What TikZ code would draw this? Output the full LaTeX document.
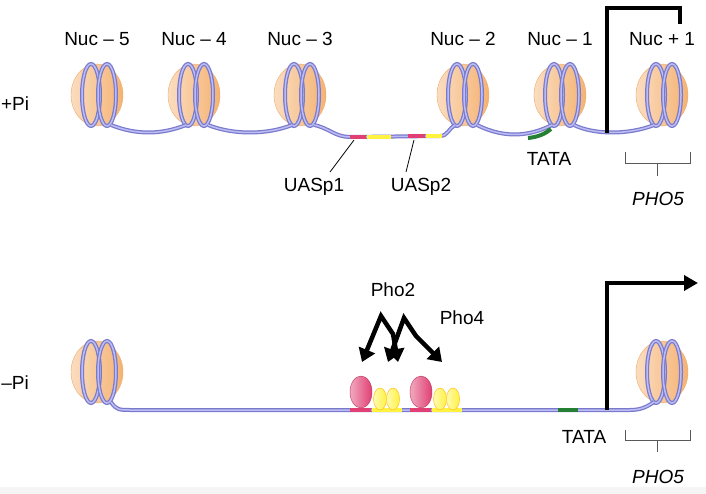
\documentclass[tikz,border=0pt]{standalone}
\usepackage{fontspec}
\setmainfont{Liberation Sans}
\usetikzlibrary{shapes.geometric,arrows.meta}
\definecolor{histone}{rgb}{0.96,0.70,0.45}
\definecolor{dnablue}{rgb}{0.48,0.48,0.80}
\definecolor{dnalight}{rgb}{0.74,0.74,0.96}
\definecolor{uaspink}{rgb}{0.88,0.25,0.45}
\definecolor{uasyellow}{rgb}{1.0,0.95,0.25}
\definecolor{tata}{rgb}{0.15,0.50,0.20}
\tikzset{
  nuc/.style={ellipse,minimum width=52pt,minimum height=62pt,inner sep=0pt,
    draw=histone!85!brown,left color=histone!45!white,right color=histone},
  dna/.style={draw=dnablue,line width=4pt,
    postaction={draw=dnalight,line width=1.5pt}},
  seg/.style={line width=4pt,line cap=butt},
  lbl/.style={font=\fontsize{19}{21}\selectfont},
  pho/.style={line width=4.5pt,line join=miter,
    {Triangle[length=13pt,width=17pt]}-{Triangle[length=13pt,width=17pt]}},
  gene/.style={line width=4pt},
  brk/.style={draw=gray!70!black,line width=0.8pt},
  red prot/.style={ellipse,minimum width=22pt,minimum height=32pt,inner sep=0pt,
    draw=uaspink!80!black,left color=uaspink!45!white,right color=uaspink},
  yel prot/.style={ellipse,minimum width=13pt,minimum height=22pt,inner sep=0pt,
    draw=orange!60!yellow,left color=uasyellow!40!white,right color=uasyellow}
}
\begin{document}
\begin{tikzpicture}[x=1pt,y=-1pt]
\useasboundingbox (0,0) rectangle (706,494);
\fill[gray!8] (0,487) rectangle (706,494);
% nucleosomes with wrapped DNA
\foreach \n/\x/\y in {n5/97/95,n4/194/95,n3/300/95,n2/463/95,n1/560/95,p1/662/95,m1/97/372,m2/662/372}{
  \node[nuc] (\n) at (\x,\y) {};
  \draw[dna] ([shift={(-6,0)}]\n.center) ellipse [x radius=9,y radius=31];
  \draw[dna] ([shift={(10,0)}]\n.center) ellipse [x radius=9,y radius=31];
  \coordinate (\n-in) at ([shift={(-8,30)}]\n.center);
  \coordinate (\n-out) at ([shift={(14,30)}]\n.center);
}
% linker DNA, top
\foreach \a/\b in {n5/n4,n4/n3}
  \draw[dna] (\a-out) .. controls +(25,10) and +(-25,10) .. (\b-in);
\draw[dna] (n3-out) .. controls +(15,3) and +(-15,0) .. (350,137) -- (440,136)
  .. controls +(8,0) and +(-6,3) .. (n2-in);
\draw[seg,uaspink] (350,137) -- (366,137);
\draw[seg,uasyellow] (367,137) -- (391,137);
\draw[seg,uaspink] (408,136) -- (425,136);
\draw[seg,uasyellow] (426,136) -- (442,136);
\draw[dna] (n2-out) .. controls +(30,15) and +(-20,10) .. (n1-in);
\draw[seg,tata] (528,138) .. controls (538,137) and (545,134) .. (551,129);
\draw[dna] (n1-out) .. controls +(20,10) and +(-25,10) .. (p1-in);
% linker DNA, bottom
\draw[dna] (m1-out) .. controls +(5,8) and +(-10,0) .. (130,410) -- (630,410)
  .. controls +(12,0) and +(-6,4) .. (m2-in);
\draw[seg,tata] (558,410) -- (578,410);
\draw[seg,uaspink] (350,410) -- (371,410);
\draw[seg,uasyellow] (372,410) -- (402,410);
\draw[seg,uaspink] (410,410) -- (431,410);
\draw[seg,uasyellow] (432,410) -- (462,410);
% bound activators
\node[red prot] (r1) at (361,392) {};
\node[yel prot] (y1) at (380,399) {};
\node[yel prot] (y2) at (393,399) {};
\node[red prot] (r2) at (421,392) {};
\node[yel prot] (y3) at (440,399) {};
\node[yel prot] (y4) at (453,399) {};
\draw[pho] (362,362) -- (381,316) -- (393,334) -- (398,362);
\draw[pho] (388,362) -- (404,318) -- (416,336) -- (442,362);
% transcription start
\draw[gene] (607,133) -- (607,8) -- (680,8) -- (680,24);
\draw[gene,-{Triangle[length=14pt,width=15pt]}] (607,410) -- (607,283) -- (698,283);
% gene brackets
\draw[brk] (625,152) -- (625,163) -- (690,163) -- (690,152) (657,163) -- (657,176);
\draw[brk] (625,430) -- (625,440) -- (690,440) -- (690,430) (657,440) -- (657,452);
% labels
\foreach \n/\t in {n5/5,n4/4,n3/3,n2/2,n1/1}
  \node[lbl] at ([yshift=56]\n.center) {Nuc -- \t};
\node[lbl] at ([yshift=56]p1.center) {Nuc + 1};
\node[lbl] at (15,104) {+Pi};
\node[lbl] at (15,383) {--Pi};
\node[lbl] (u1) at (314,187) {UASp1};
\node[lbl] (u2) at (421,187) {UASp2};
\draw[brk,black] (330,172) -- (354,140);
\draw[brk,black] (406,172) -- (414,140);
\node[lbl] at (549,159) {TATA};
\node[lbl] at (584,437) {TATA};
\node[lbl,font=\fontsize{19}{21}\selectfont\itshape] at (658,199) {PHO5};
\node[lbl,font=\fontsize{19}{21}\selectfont\itshape] at (658,477) {PHO5};
\node[lbl] at (393,290) {Pho2};
\node[lbl] at (462,318) {Pho4};
\end{tikzpicture}
\end{document}
